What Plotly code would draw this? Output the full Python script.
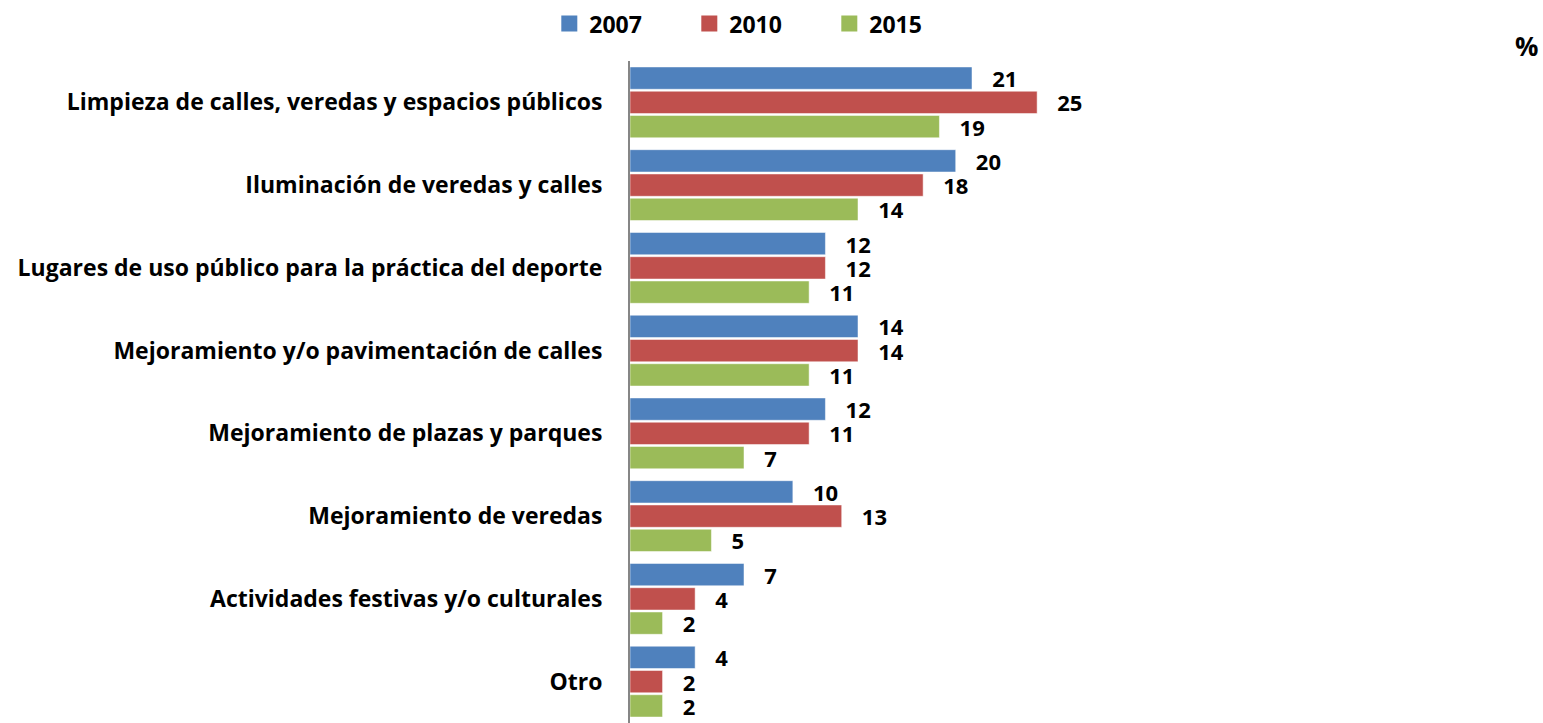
import plotly.graph_objects as go

categories = [
    "Limpieza de calles, veredas y espacios públicos",
    "Iluminación de veredas y calles",
    "Lugares de uso público para la práctica del deporte",
    "Mejoramiento y/o pavimentación de calles",
    "Mejoramiento de plazas y parques",
    "Mejoramiento de veredas",
    "Actividades festivas y/o culturales",
    "Otro",
]
series_names = ["2007", "2010", "2015"]
values_2007 = [21, 20, 12, 14, 12, 10, 7, 4]
values_2010 = [25, 18, 12, 14, 11, 13, 4, 2]
values_2015 = [19, 14, 11, 11, 7, 5, 2, 2]
colors = ["#4F81BD", "#C0504D", "#9BBB59"]

FONT = "Open Sans"


def bold(size):
    return dict(family=FONT, size=size, color="black", weight="bold")


fig = go.Figure()
for name, vals, col in zip(series_names, [values_2007, values_2010, values_2015], colors):
    fig.add_trace(go.Bar(
        name=name,
        y=categories,
        x=vals,
        orientation="h",
        marker=dict(color=col, line=dict(color="white", width=0.5)),
        text=[f"   {v}" for v in vals],
        textposition="outside",
        constraintext="none",
        textfont=bold(22),
        cliponaxis=False,
        showlegend=False,
    ))

# Legend entries with larger square swatches
for name, col in zip(series_names, colors):
    fig.add_trace(go.Scatter(
        name=name,
        x=[None],
        y=[None],
        mode="markers",
        marker=dict(symbol="square", size=17, color=col),
        showlegend=True,
    ))

fig.update_layout(
    width=1543,
    height=723,
    margin=dict(l=630, r=343, t=61, b=0),
    paper_bgcolor="white",
    plot_bgcolor="white",
    barmode="group",
    bargap=0.12,
    bargroupgap=0.08,
    font=bold(23),
    showlegend=True,
    legend=dict(
        orientation="h",
        xref="container",
        x=0.356,
        xanchor="left",
        y=0.997,
        yref="container",
        yanchor="top",
        entrywidth=95,
        itemsizing="trace",
        font=bold(23),
        traceorder="normal",
    ),
    xaxis=dict(
        range=[0, 35],
        visible=False,
        automargin=False,
    ),
    yaxis=dict(
        autorange="reversed",
        automargin=False,
        showline=True,
        linecolor="#868686",
        linewidth=2,
        ticks="",
        ticklabelstandoff=21,
        tickfont=bold(23),
        showgrid=False,
    ),
    annotations=[
        dict(
            text="%",
            xref="paper",
            yref="paper",
            x=1.572,
            y=1.022,
            xanchor="center",
            yanchor="middle",
            showarrow=False,
            font=bold(26),
        )
    ],
)

fig.write_html("out.html")
